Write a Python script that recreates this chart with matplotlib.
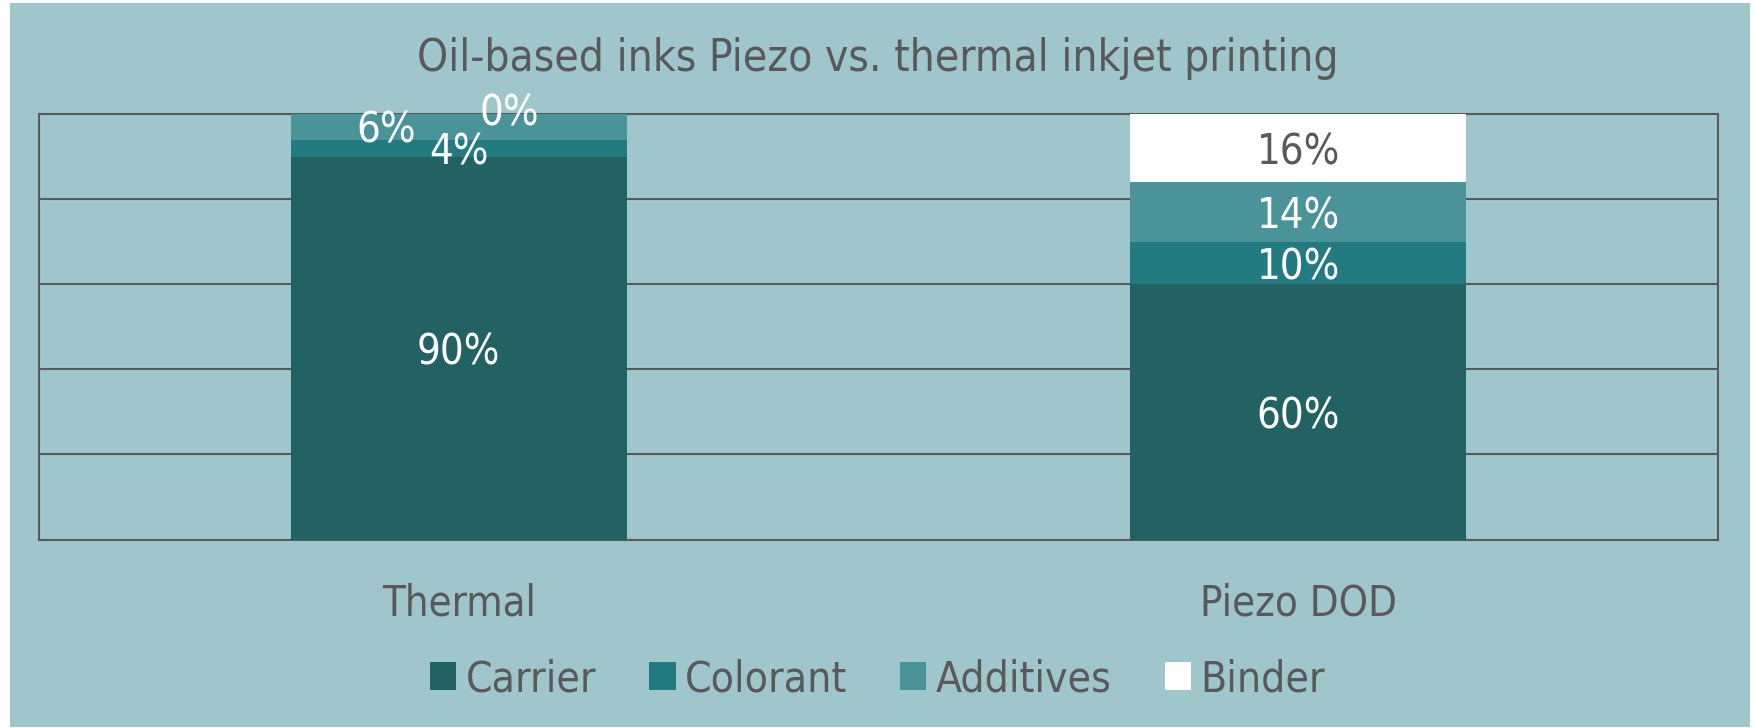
import matplotlib
matplotlib.use("Agg")
import matplotlib.pyplot as plt
from matplotlib.patches import Rectangle, Patch
from matplotlib import transforms
import numpy as np

# Ink composition by printing technology (percent of formulation)
categories = ["Thermal", "Piezo DOD"]
components = ["Carrier", "Colorant", "Additives", "Binder"]
carrier = [90, 60]
colorant = [4, 10]
additives = [6, 14]
binder = [0, 16]
series = [carrier, colorant, additives, binder]

title = "Oil-based inks Piezo vs. thermal inkjet printing"

colors = ["#236262", "#237b82", "#4a9499", "#ffffff"]
panel_color = "#9fc7cb"
text_color = "#595959"

plt.rcParams["font.family"] = ["DejaVu Sans Condensed", "DejaVu Sans"]
plt.rcParams["font.stretch"] = "condensed"

W, H = 1755, 728
fig = plt.figure(figsize=(W / 100, H / 100), dpi=100, facecolor="white")

# Teal card behind the chart
fig.patches.append(Rectangle((10 / W, 1 - 727 / H), 1740 / W, 724 / H,
                             transform=fig.transFigure, facecolor=panel_color,
                             edgecolor="none", zorder=-10))

ax = fig.add_axes([39 / W, 1 - 539.5 / H, (1718 - 39) / W, (539.5 - 114) / H])
ax.set_zorder(2)
ax.set_facecolor("none")

x = np.arange(len(categories))
bottom = np.zeros(len(categories))
bars = []
for vals, col in zip(series, colors):
    b = ax.bar(x, vals, width=0.4, bottom=bottom, color=col, edgecolor="none", zorder=3)
    bars.append((b, np.array(vals, dtype=float), bottom.copy()))
    bottom += np.array(vals, dtype=float)

ax.set_xlim(-0.5, 1.5)
ax.set_ylim(0, 100)
ax.set_yticks([0, 20, 40, 60, 80, 100])
ax.yaxis.grid(True, color=text_color, linewidth=1.5, zorder=1)
ax.set_axisbelow(True)
ax.tick_params(left=False, bottom=False, labelleft=False, labelbottom=False)
for sp in ax.spines.values():
    sp.set_color(text_color)
    sp.set_linewidth(1.5)

# Segment value labels; crowded thin segments are nudged aside
offsets = {(0, 2): (-52, -3), (0, 3): (36, 0)}
label_size = 30
for si, (b, vals, bot) in enumerate(bars):
    for ci in range(len(categories)):
        v = vals[ci]
        yc = bot[ci] + v / 2
        dx, dy = offsets.get((ci, si), (0, -3))
        # dark text only where it sits on the white binder block
        tc = text_color if (colors[si] == "#ffffff" and v > 0) else "white"
        ax.annotate(f"{v:.0f}%", xy=(x[ci], yc), xytext=(dx, dy),
                    textcoords="offset points", ha="center", va="center",
                    color=tc, fontsize=label_size, zorder=5,
                    annotation_clip=False)

# Category names under the plot
blend = transforms.blended_transform_factory(ax.transData, fig.transFigure)
for xi, name in zip(x, categories):
    ax.text(xi, 1 - 603 / H, name, transform=blend, ha="center", va="center",
            fontsize=30, color=text_color)

fig.text(0.5, 1 - 59 / H, title, ha="center", va="center", fontsize=31.7, color=text_color)

handles = [Patch(facecolor=c, edgecolor="none") for c in colors]
fig.legend(handles, components, loc="center", bbox_to_anchor=(0.5, 1 - 679 / H),
           ncol=4, frameon=False, fontsize=30.5, labelcolor=text_color,
           handlelength=0.62, handleheight=0.62, handletextpad=0.22, columnspacing=1.25)

fig.savefig("out.png", dpi=100, facecolor="white")
